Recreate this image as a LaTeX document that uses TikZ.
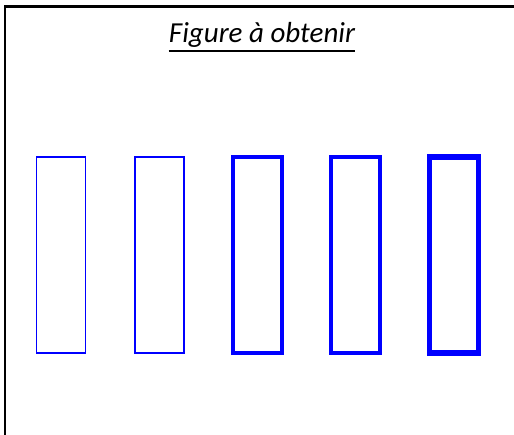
\documentclass[tikz,border=0pt]{standalone}
\usepackage{fontspec}
\setmainfont{Carlito}

\tikzset{
  barre/.style={draw=blue, minimum width=0.98cm, minimum height=3.92cm, inner sep=0pt}
}

\begin{document}
\begin{tikzpicture}

        % Page size
        \useasboundingbox (0,0) rectangle (10.28,8.7);

        % Frame (only left and top sides are visible)
        \coordinate (F0) at (0.1,-0.5);
        \coordinate (F1) at (10.8,8.56);
        \draw[line width=1.7pt] (F0) |- (F1);

        % Title
        \node[anchor=base, inner sep=0pt] (titre) at (5.24,7.84)
          {\fontsize{16.5}{20}\selectfont\itshape Figure à obtenir};
        \draw[line width=1pt] ([yshift=-0.16cm]titre.base west) -- ([yshift=-0.16cm]titre.base east);

        % Rectangles with growing line width
        \foreach \i/\w in {1/0.7pt, 2/1.3pt, 3/1.9pt, 4/2.5pt, 5/3.3pt} {
            \node[barre, line width=\w] (r\i) at ({1.22+1.965*(\i-1)},3.6) {};
        }

\end{tikzpicture}
\end{document}
